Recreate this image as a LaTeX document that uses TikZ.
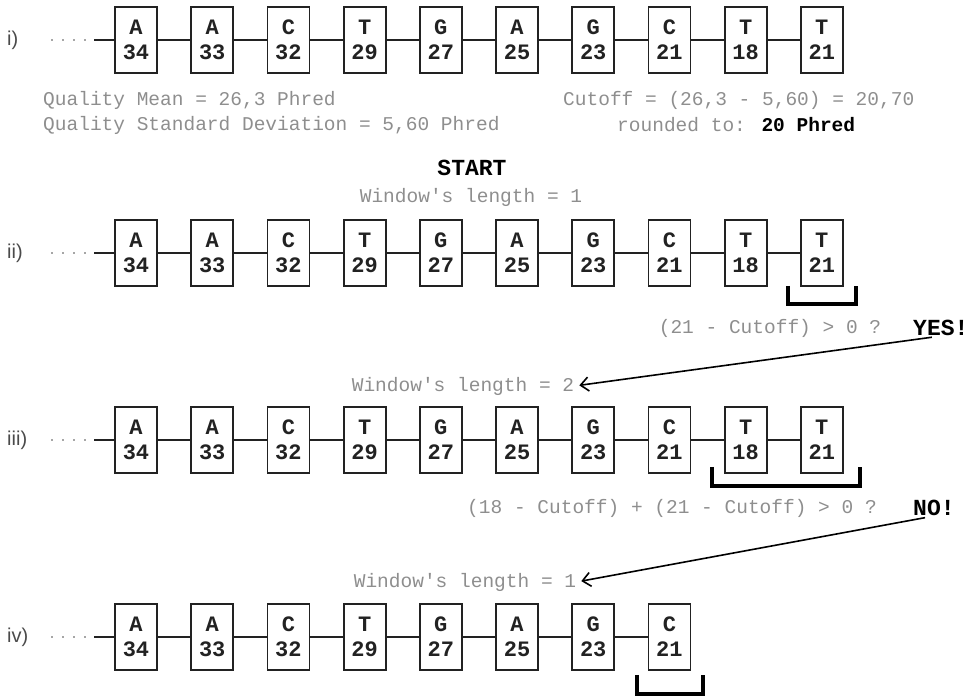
\documentclass[tikz,border=0pt]{standalone}
\usepackage{fontspec}
\setmainfont{Liberation Sans}
\newfontfamily\monofont{Liberation Mono}
\usetikzlibrary{arrows.meta,positioning,calc}
\definecolor{inkgray}{HTML}{8E8E8E}
\definecolor{labelgray}{HTML}{4A4A4A}
\definecolor{boxline}{HTML}{222222}

\begin{document}
\begin{tikzpicture}[x=1pt,y=-1pt,
  base/.style={draw=boxline, line width=1.8pt, minimum width=42pt, minimum height=66pt, inner sep=0pt, align=center, text=boxline, font=\monofont\bfseries\fontsize{22}{25}\selectfont},
  link/.style={draw=boxline, line width=1.8pt},
  leaddots/.style={draw=labelgray, line width=1.8pt, line cap=round, dash pattern=on 0pt off 11pt},
  window/.style={draw=black, line width=4pt},
  flow/.style={draw=black, line width=1.6pt, shorten <=9pt, shorten >=5pt, -{Straight Barb[length=8pt,width=14pt]}},
  note/.style={inner sep=0pt, text=inkgray, font=\monofont\fontsize{19.5}{22}\selectfont},
  shout/.style={inner sep=0pt, text=black, font=\monofont\bfseries\fontsize{23}{26}\selectfont},
  rowlabel/.style={inner sep=0pt, anchor=west, text=labelgray, font=\fontsize{20}{22}\selectfont}]
\useasboundingbox (0,0) rectangle (972,697);

\foreach \r/\yy/\n/\lab in {1/40/9/i), 2/253/9/ii), 3/440/9/iii), 4/637/7/iv)} {
  \foreach \k/\b/\q in {0/A/34,1/A/33,2/C/32,3/T/29,4/G/27,5/A/25,6/G/23,7/C/21,8/T/18,9/T/21} {
    \ifnum\k>\n\else
      \node[base] (r\r-\k) at ({136+76.2*\k},\yy) {\b\\\q};
    \fi
  }
  \foreach \k in {1,...,\n} {
    \pgfmathtruncatemacro\p{\k-1}
    \draw[link] (r\r-\p) -- (r\r-\k);
  }
  \node[rowlabel] (lab\r) at (7,\yy) {\lab};
  \coordinate (dots\r) at (52,\yy);
  \coordinate (lead\r) at (94,\yy);
  \draw[leaddots] (dots\r) -- (lead\r);
  \draw[link] (lead\r) -- (r\r-0);
}

\node[note, anchor=west] (mean) at (43,100) {Quality Mean = 26,3 Phred};
\node[note, anchor=west] (sd) at (43,125) {Quality Standard Deviation = 5,60 Phred};
\node[note, anchor=west] (cutoff) at (563,100) {Cutoff = (26,3 - 5,60) = 20,70};
\node[note, anchor=west] (rounded) at (617,125) {rounded to: {\bfseries\color{black}20 Phred}};

\node[shout] (start) at (472,168) {START};
\node[note] (win1) at (471,197) {Window's length = 1};

\draw[window] ($(r2-9.south west)+(-12,-1)$) -- ++(0,18) -| ($(r2-9.south east)+(12,-1)$);
\node[note] (test1) at (770,328) {(21 - Cutoff) > 0 ?};
\node[shout, anchor=west] (yes) at (913,328) {YES!};
\node[note] (win2) at (463,386) {Window's length = 2};
\draw[flow] (yes.south) -- (win2.east);

\draw[window] ($(r3-8.south west)+(-12,-7)$) -- ++(0,19) -| ($(r3-9.south east)+(16,-7)$);
\node[note] (test2) at (672,508) {(18 - Cutoff) + (21 - Cutoff) > 0 ?};
\node[shout, anchor=west] (no) at (913,508) {NO!};
\node[note] (win3) at (465,582) {Window's length = 1};
\draw[flow] (no.south) -- (win3.east);

\draw[window] ($(r4-7.south west)+(-11,4)$) -- ++(0,19) -| ($(r4-7.south east)+(12,4)$);
\end{tikzpicture}
\end{document}
